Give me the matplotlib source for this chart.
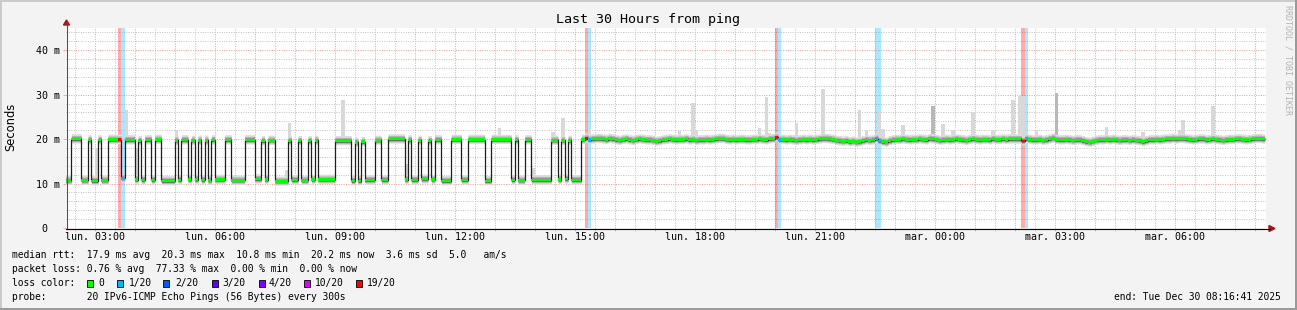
import numpy as np
import matplotlib
matplotlib.use("Agg")
import matplotlib.pyplot as plt
from matplotlib.patches import Rectangle, Polygon
from matplotlib.lines import Line2D
from matplotlib.ticker import MultipleLocator, FuncFormatter

W, H = 1297, 310
plt.rcParams['font.family'] = 'DejaVu Sans Mono'
plt.rcParams['lines.scale_dashes'] = False

# time axis: hours since Mon 29 Dec 00:00, end Tue 30 Dec 08:16:41, 30 h window
t_end = 24 + 8 + 16 / 60 + 41 / 3600
t_start = t_end - 30
step0 = 2.25          # first 5 min step starts 02:15
step_h = 5 / 60

# first part: median flips between ~11 ms and ~20 ms (runs of 5 min steps, starting low)
run_steps = [2, 3, 2, 1, 2, 1, 2, 4, 1, 3, 1, 1, 1, 2, 1, 2, 4, 1, 1, 2,
             1, 1, 1, 1, 1, 1, 1, 1, 3, 2, 4, 3, 2, 1, 1, 2, 4, 1, 2, 1,
             2, 1, 1, 1, 5, 5, 1, 1, 1, 1, 3, 2, 2, 5, 1, 1, 2, 1, 2, 1,
             1, 2, 3, 3, 2, 5, 2, 6, 1, 1, 2, 2, 6, 2, 1, 1, 1, 1, 3]
run_ms = [10.7, 20.0, 10.7, 19.8, 10.6, 19.8, 10.7, 19.9, 11.2, 19.8,
          10.9, 19.6, 10.8, 19.8, 10.8, 19.9, 10.6, 19.7, 10.8, 19.8,
          10.9, 19.7, 10.9, 19.7, 10.8, 19.7, 10.7, 19.8, 10.9, 19.8,
          10.7, 19.8, 11.0, 19.6, 10.9, 19.7, 10.5, 19.6, 10.8, 19.6,
          10.7, 19.6, 10.9, 19.7, 10.9, 19.6, 10.6, 19.3, 10.6, 19.4,
          10.8, 19.7, 10.8, 20.0, 10.9, 19.8, 10.8, 19.7, 11.0, 19.6,
          10.9, 19.8, 10.6, 19.9, 10.8, 19.9, 10.6, 19.9, 10.8, 19.8,
          10.7, 19.8, 10.8, 19.7, 10.9, 19.7, 11.0, 19.7, 10.8]

# second part: steady around 20 ms, one value per 5 min step
flat_ms = [19.9, 20.2, 19.9, 20.0, 20.1, 20.1, 20.0, 19.9, 20.1, 20.0,
           19.8, 19.7, 19.9, 20.0, 19.8, 19.7, 19.9, 20.0, 19.9, 19.8,
           19.8, 19.7, 19.5, 19.6, 19.8, 19.9, 20.0, 19.9, 19.8, 19.9,
           19.9, 20.0, 19.8, 19.9, 19.7, 19.8, 19.8, 19.9, 19.8, 19.9,
           20.0, 20.1, 20.1, 19.9, 19.8, 19.9, 19.8, 19.9, 19.9, 19.8,
           19.8, 19.9, 19.9, 20.0, 19.9, 19.8, 20.0, 20.1, 20.4, 19.9,
           19.9, 19.8, 19.9, 19.8, 19.7, 19.8, 19.9, 19.8, 19.9, 19.8,
           19.9, 20.0, 20.1, 20.1, 20.0, 19.9, 19.7, 19.6, 19.5, 19.6,
           19.4, 19.5, 19.3, 19.4, 19.6, 19.8, 19.7, 19.8, 20.1, 19.6,
           19.4, 19.3, 19.6, 19.8, 19.9, 19.9, 20.0, 19.9, 19.8, 19.9,
           19.9, 20.0, 19.9, 19.8, 20.1, 20.0, 19.9, 19.7, 19.8, 19.9,
           19.8, 19.9, 20.0, 19.9, 19.8, 19.7, 19.9, 20.0, 19.9, 19.8,
           19.9, 19.9, 19.8, 20.0, 19.9, 19.9, 20.0, 19.9, 20.0, 20.0,
           20.0, 20.0, 19.6, 20.1, 19.9, 19.8, 19.8, 19.9, 19.7, 19.8,
           20.0, 20.2, 19.9, 19.8, 19.8, 19.9, 19.8, 19.7, 19.8, 19.8,
           19.6, 19.4, 19.3, 19.5, 19.7, 19.8, 19.8, 19.9, 19.8, 19.9,
           19.8, 19.7, 19.8, 19.8, 19.7, 19.8, 19.7, 19.6, 19.4, 19.6,
           19.8, 19.8, 19.9, 19.8, 19.9, 20.0, 20.0, 20.1, 20.0, 20.1,
           20.1, 20.0, 19.9, 19.8, 19.9, 20.0, 20.0, 19.8, 19.9, 20.0,
           19.9, 19.8, 19.7, 19.8, 19.9, 19.9, 20.0, 20.0, 19.9, 19.8,
           19.9, 20.0, 20.1, 20.1, 20.0]

# steps with packet loss
loss_steps = [16, 17, 156, 157, 213, 214, 243, 244, 287, 288]
loss_bin = ['19/20', '1/20', '19/20', '1/20', '19/20', '1/20',
            '1/20', '1/20', '19/20', '1/20']

# slowest ping of a step, where it sticks out of the smoke
spike_steps = [9, 18, 21, 33, 66, 67, 83, 102, 130, 140, 146, 149, 157,
               184, 188, 189, 208, 210, 211, 219, 227, 238, 240, 244, 245,
               251, 263, 266, 272, 278, 284, 286, 287, 291, 312, 323, 334,
               335, 344, 355]
spike_ms = [18.0, 26.5, 18.0, 22.0, 13.0, 23.7, 28.8, 14.5, 22.6, 13.5,
            21.5, 24.7, 22.0, 21.9, 28.2, 22.0, 22.6, 29.5, 21.3, 23.7,
            31.3, 26.5, 22.0, 26.0, 22.3, 23.2, 23.4, 22.0, 26.0, 22.0,
            28.8, 29.8, 29.8, 22.0, 22.8, 21.5, 22.0, 24.2, 27.5, 21.0]
dark_spike_steps = [260, 297]
dark_spike_ms = [27.5, 30.3]

loss_labels = ['0', '1/20', '2/20', '3/20', '4/20', '10/20', '19/20']
loss_colors = ['#00ff00', '#00b8ff', '#0059ff', '#5e00ff', '#7e00ff', '#dd00ff', '#ff0000']


def fx(x):
    return x / W


def fy(y):
    return 1 - y / H


fig = plt.figure(figsize=(W / 100, H / 100), dpi=100, facecolor='#f3f3f3')
ax = fig.add_axes([fx(65.8), fy(228), 1200 / W, 200 / H])
ax.set_facecolor('white')
ax.set_xlim(t_start, t_end)
ax.set_ylim(0, 45)

med = np.concatenate([np.repeat(run_ms, run_steps), flat_ms])
n = len(med)
edges = step0 + np.arange(n + 1) * step_h
starts = edges[:-1]
loss_idx = np.zeros(n, dtype=int)
for k, b in zip(loss_steps, loss_bin):
    loss_idx[k] = loss_labels.index(b)

# loss background
for k, b in zip(loss_steps, loss_bin):
    ax.axvspan(edges[k], edges[k + 1], color=loss_colors[loss_labels.index(b)],
               alpha=0.33, lw=0, zorder=1)

# smoke
ax.bar(starts[spike_steps], np.array(spike_ms) - med[spike_steps], bottom=med[spike_steps],
       width=step_h, align='edge', color='#d8d8d8', lw=0, zorder=2)
ax.bar(starts[dark_spike_steps], np.array(dark_spike_ms) - med[dark_spike_steps],
       bottom=med[dark_spike_steps], width=step_h, align='edge', color='#b8b8b8', lw=0, zorder=2)
med_ext = np.append(med, med[-1])
for lo, hi, col in [(0.9, 1.2, '#dcdcdc'), (0.6, 0.8, '#b2b2b2'), (0.35, 0.45, '#7a7a7a')]:
    ax.fill_between(edges, med_ext - lo, med_ext + hi, step='post', color=col, lw=0, zorder=2.1)

# median line + loss coloured marks
ax.stairs(med, edges, baseline=None, color='#1e1e1e', lw=0.9, zorder=3)
ax.bar(starts, 0.62, bottom=med - 0.31, width=step_h, align='edge',
       color=[loss_colors[i] for i in loss_idx], lw=0, zorder=4)

# grid and ticks
days = ['lun.', 'mar.']


def xfmt(v, pos):
    h = int(round(v))
    if h % 3:
        return ''
    return f"{days[h // 24]} {h % 24:02d}:00"


def yfmt(v, pos):
    if v == 0:
        return '0  '
    return f"{int(v)} m"


ax.xaxis.set_major_locator(MultipleLocator(1))
ax.xaxis.set_minor_locator(MultipleLocator(0.5))
ax.yaxis.set_major_locator(MultipleLocator(10))
ax.yaxis.set_minor_locator(MultipleLocator(2))
ax.xaxis.set_major_formatter(FuncFormatter(xfmt))
ax.yaxis.set_major_formatter(FuncFormatter(yfmt))
ax.set_axisbelow(True)
dots = (0, (0.72, 1.0))
ax.grid(which='major', color='#f2a0a0', lw=0.72, ls=dots)
ax.grid(which='minor', color='#c4c4c4', lw=0.72, ls=dots)
ax.tick_params(axis='x', which='major', length=1.8, width=0.72, color='#f4a8a8', pad=1, labelsize=7.2)
ax.tick_params(axis='x', which='minor', length=1.8, width=0.72, color='#cccccc')
ax.tick_params(axis='y', which='major', length=2.2, width=0.72, color='#f4a8a8', pad=1.8, labelsize=7.2)
ax.tick_params(axis='y', which='minor', length=0)
for s in ax.spines.values():
    s.set_visible(False)

# axes with arrows
fig.add_artist(Line2D([fx(66.5), fx(66.5)], [fy(228.5), fy(22)], color='#505050', lw=0.8))
fig.add_artist(Line2D([fx(66), fx(1270)], [fy(228.5), fy(228.5)], color='black', lw=0.8))
fig.add_artist(Polygon([(fx(63.5), fy(25)), (fx(69.5), fy(25)), (fx(66.5), fy(20))],
                       closed=True, color='#a01818'))
fig.add_artist(Polygon([(fx(1269), fy(225.5)), (fx(1269), fy(231.5)), (fx(1275), fy(228.5))],
                       closed=True, color='#a01818'))

# frame
fig.add_artist(Rectangle((0, fy(2)), 1, 2 / H, color='#cbcbcb', lw=0))
fig.add_artist(Rectangle((0, 0), 2 / W, 1, color='#cbcbcb', lw=0))
fig.add_artist(Rectangle((0, 0), 1, 2 / H, color='#9a9a9a', lw=0))
fig.add_artist(Rectangle((1 - 2 / W, 0), 2 / W, 1, color='#9a9a9a', lw=0))

# texts
fig.text(fx(648), fy(23.3), 'Last 30 Hours from ping', ha='center', va='baseline', fontsize=9.6)
fig.text(fx(11), fy(127), 'Seconds', rotation=90, ha='center', va='center',
         fontsize=8.3, family='DejaVu Sans')
fig.text(fx(1288), fy(60), 'RRDTOOL / TOBI OETIKER', rotation=270, ha='center', va='center',
         fontsize=6, color='#b4b4b4')

leg = 6.9
fig.text(fx(12), fy(257.7), 'median rtt:  17.9 ms avg  20.3 ms max  10.8 ms min  20.2 ms now  3.6 ms sd  5.0   am/s',
         ha='left', va='baseline', fontsize=leg)
fig.text(fx(12), fy(271.7), 'packet loss: 0.76 % avg  77.33 % max  0.00 % min  0.00 % now',
         ha='left', va='baseline', fontsize=leg)
fig.text(fx(12), fy(285.7), 'loss color:', ha='left', va='baseline', fontsize=leg)
box_x = [86.7, 117.3, 163.3, 212, 258.7, 304.3, 356]
lab_x = [98.5, 128.5, 175.2, 222.2, 268.8, 315.2, 367.2]
for bx, lx, lab, col in zip(box_x, lab_x, loss_labels, loss_colors):
    fig.add_artist(Rectangle((fx(bx), fy(286.5)), 6 / W, 7 / H, facecolor=col,
                             edgecolor='black', lw=0.6))
    fig.text(fx(lx), fy(285.7), lab, ha='left', va='baseline', fontsize=leg)
fig.text(fx(12), fy(299.7), 'probe:       20 IPv6-ICMP Echo Pings (56 Bytes) every 300s',
         ha='left', va='baseline', fontsize=leg)
fig.text(fx(1281), fy(300), 'end: Tue Dec 30 08:16:41 2025', ha='right', va='baseline', fontsize=leg)

fig.savefig('out.png', dpi=100, facecolor=fig.get_facecolor())
